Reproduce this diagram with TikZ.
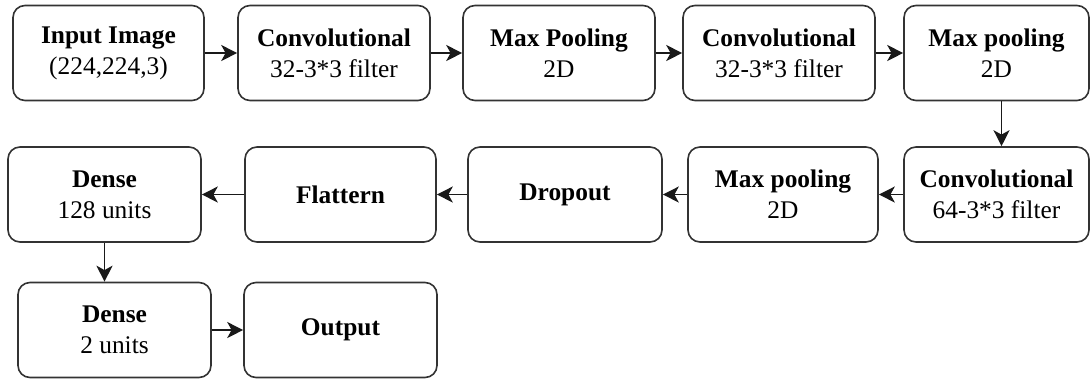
\documentclass[tikz,border=0pt]{standalone}
\usepackage{fontspec}
\IfFontExistsTF{LiberationSerif-Regular.ttf}
  {\setmainfont{LiberationSerif}[Extension=.ttf, UprightFont=*-Regular, BoldFont=*-Bold, ItalicFont=*-Italic, BoldItalicFont=*-BoldItalic]}
  {\setmainfont{Liberation Serif}}
\usetikzlibrary{arrows.meta}
\begin{document}
\begin{tikzpicture}[x=0.5pt,y=-0.5pt,
  box/.style={draw=black!80, line width=0.8pt, rounded corners=6pt, fill=white,
    inner sep=0pt, align=center, font=\fontsize{12.7}{15.5}\selectfont,
    minimum height=47.5pt},
  arr/.style={draw=black!90, line width=0.8pt, -{Stealth[length=8pt,width=8pt,inset=2.2pt]}}]
\useasboundingbox (0,0) rectangle (1091,381);
% row 1
\node[box, minimum width=95.5pt] (b1) at (108.5,53) {\textbf{Input Image}\\(224,224,3)};
\node[box, minimum width=96pt] (b2) at (334,53) {\textbf{Convolutional}\\32-3*3 filter};
\node[box, minimum width=96pt] (b3) at (559,53) {\textbf{Max Pooling}\\2D};
\node[box, minimum width=96pt] (b4) at (779,53) {\textbf{Convolutional}\\32-3*3 filter};
\node[box, minimum width=92.5pt] (b5) at (996.5,53) {\textbf{Max pooling}\\2D};
% row 2
\node[box, minimum width=92.5pt] (c6) at (996.5,194.5) {\textbf{Convolutional}\\64-3*3 filter};
\node[box, minimum width=95pt] (mp) at (783,194.5) {\textbf{Max pooling}\\2D};
\node[box, minimum width=97pt] (dr) at (565,194.5) {\textbf{Dropout}};
\node[box, minimum width=95.5pt] (fl) at (340.5,194.5) {\textbf{Flattern}};
\node[box, minimum width=96.5pt] (d1) at (104.5,194.5) {\textbf{Dense}\\128 units};
% row 3
\node[box, minimum width=96.5pt] (d2) at (114.5,330) {\textbf{Dense}\\2 units};
\node[box, minimum width=96.5pt] (out) at (340.5,330) {\textbf{Output}};
% connectors
\draw[arr] (b1) -- (b2);
\draw[arr] (b2) -- (b3);
\draw[arr] (b3) -- (b4);
\draw[arr] (b4) -- (b5);
\coordinate (v1) at ([xshift=2.5pt]b5.south);
\draw[arr] (v1) -- (v1 |- c6.north);
\draw[arr] (c6) -- (mp);
\draw[arr] (mp) -- (dr);
\draw[arr] (dr) -- (fl);
\draw[arr] (fl) -- (d1);
\draw[arr] (d1.south) -- (d1.south |- d2.north);
\draw[arr] (d2) -- (out);
\end{tikzpicture}
\end{document}
